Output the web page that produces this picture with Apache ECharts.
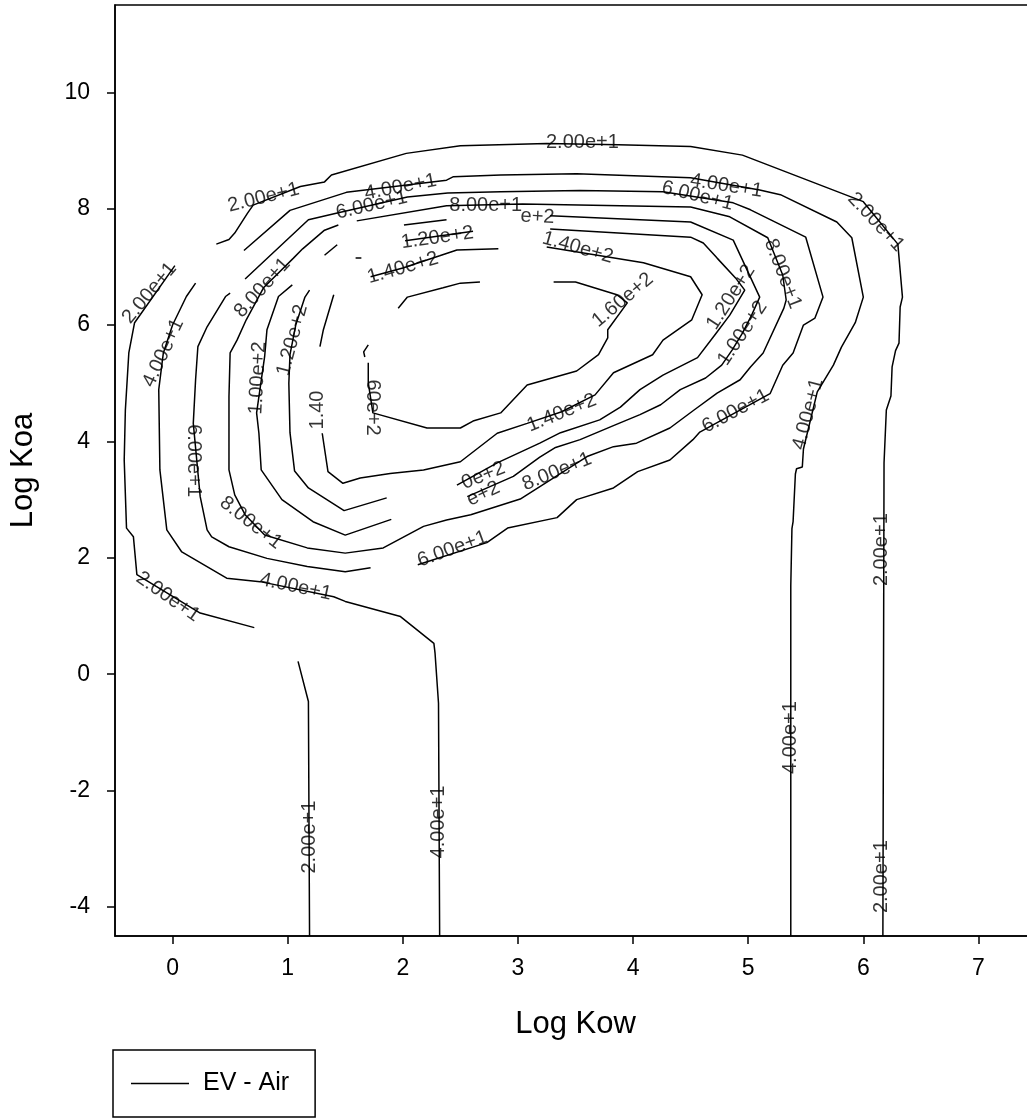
<!DOCTYPE html>
<html><head><meta charset="utf-8">
<script src="https://cdn.jsdelivr.net/npm/echarts@6/dist/echarts.min.js"></script>
<style>html,body{margin:0;padding:0;background:#fff}#c{width:1027px;height:1119px}</style>
</head><body><div id="c"></div>
<script>
// Tick labels
const xTicks = [0, 1, 2, 3, 4, 5, 6, 7];
const yTicks = [-4, -2, 0, 2, 4, 6, 8, 10];

// Contour level 20 (EV - Air)
const level20a = [[0.38,7.39],[0.49,7.47],[0.54,7.58],[0.65,7.92],[0.70,8.06],[1.11,8.38],[1.32,8.46],[1.38,8.58],[2.03,8.95],[2.50,9.08],[3.25,9.12],[3.87,9.10],[4.50,9.07],[4.95,8.92],[6.00,8.12],[6.30,7.39],[6.34,6.48],[6.32,6.31],[6.31,5.69],[6.28,5.56],[6.25,5.28],[6.24,4.78],[6.20,4.54],[6.18,3.63],[6.17,-4.5]];
const level20b = [[0.02,7.02],[-0.33,6.04],[-0.38,5.52],[-0.41,4.54],[-0.42,3.68],[-0.40,2.51],[-0.34,2.36],[-0.31,1.71],[0.24,1.05],[0.71,0.80]];
const level20c = [[1.09,0.22],[1.18,-0.47],[1.19,-4.5]];
// Contour level 40
const level40a = [[5.37,-4.5],[5.37,1.52],[5.38,2.50],[5.39,2.62],[5.41,3.44],[5.42,3.53],[5.47,3.56],[5.48,3.87],[5.60,4.85],[5.74,5.31],[5.81,5.62],[5.93,6.04],[6.00,6.48],[5.90,7.50],[5.77,7.77],[5.28,8.24],[5.10,8.32],[4.50,8.53],[3.51,8.60],[2.85,8.58],[2.44,8.55],[2.38,8.49],[1.51,8.28],[1.02,7.97],[0.62,7.28]];
const level40b = [[0.20,6.72],[0.12,6.49],[0.00,6.00],[-0.08,5.52],[-0.12,4.89],[-0.11,3.51],[-0.05,2.48],[0.08,2.10],[0.47,1.65],[0.76,1.59],[1.40,1.33],[1.50,1.25],[1.98,0.99],[2.27,0.53],[2.28,0.36],[2.31,-0.50],[2.32,-4.5]];
// Contour level 60
const level60a = [[0.50,6.55],[0.46,6.49],[0.30,5.97],[0.22,5.63],[0.20,5.06],[0.18,4.31],[0.24,3.05],[0.30,2.48],[0.34,2.36],[0.49,2.19],[0.82,1.99],[1.17,1.85],[1.50,1.76],[1.72,1.83]];
const level60b = [[0.63,6.79],[1.18,7.81],[1.44,7.93],[2.04,8.20],[2.39,8.27],[2.85,8.29],[3.54,8.31],[4.26,8.29],[4.87,8.10],[5.02,7.98],[5.50,7.51],[5.65,6.48],[5.58,6.12],[5.48,6.00],[5.39,5.52],[5.30,5.31],[5.19,4.82],[4.58,4.16],[4.52,4.03],[4.32,3.68],[4.04,3.48],[3.83,3.20],[3.51,3.00],[3.34,2.69],[2.91,2.51],[2.73,2.26],[2.13,1.88]];
// Contour level 80
const level80 = [[1.44,7.72],[1.32,7.63],[1.13,7.31],[1.05,7.15],[0.79,6.64],[0.64,6.09],[0.56,5.74],[0.50,5.52],[0.49,4.77],[0.49,3.51],[0.54,3.08],[0.63,2.74],[0.80,2.39],[1.17,2.17],[1.50,2.08],[1.83,2.17],[2.18,2.54],[2.38,2.65],[2.59,2.74],[3.02,3.01],[3.60,3.74],[3.83,3.91],[4.03,3.97],[4.32,4.23],[4.53,4.54],[4.73,4.83],[4.93,5.06],[5.02,5.28],[5.13,5.52],[5.31,6.29],[5.33,6.43],[5.30,6.86],[5.17,7.50],[4.84,7.86],[4.50,8.03],[3.04,8.08],[2.38,8.05],[1.60,7.79]];
// Contour level 100
const level100a = [[1.04,6.69],[0.92,6.49],[0.82,5.92],[0.80,5.46],[0.73,4.49],[0.75,4.14],[0.77,3.51],[0.95,3.00],[1.22,2.62],[1.50,2.39],[1.90,2.66]];
const level100b = [[1.32,7.20],[1.43,7.38]];
const level100c = [[2.01,7.72],[2.38,7.81]];
const level100d = [[2.56,3.05],[2.96,3.40],[3.19,3.73],[3.32,3.89],[3.54,4.03],[3.84,4.28],[4.06,4.46],[4.24,4.63],[4.41,4.89],[4.63,5.09],[4.77,5.31],[4.86,5.57],[4.95,5.86],[5.03,6.17],[5.10,6.48],[4.87,7.46],[4.50,7.77],[3.28,7.88]];
// Contour level 120
const level120a = [[1.19,6.60],[1.15,6.48],[1.07,6.00],[1.02,5.49],[1.01,5.00],[1.02,4.15],[1.06,3.49],[1.18,3.20],[1.49,2.81],[1.86,3.03]];
const level120b = [[1.59,7.15],[1.64,7.15]];
const level120c = [[2.02,7.45],[2.61,7.61]];
const level120d = [[2.47,3.25],[2.82,3.63],[3.19,3.97],[3.37,4.15],[3.71,4.37],[3.89,4.59],[4.06,4.89],[4.26,5.14],[4.56,5.44],[4.71,5.83],[4.84,6.17],[4.97,6.60],[4.89,6.81],[4.73,7.15],[4.61,7.41],[4.50,7.51],[3.28,7.65]];
// Contour level 140
const level140a = [[1.40,6.52],[1.31,5.92],[1.28,5.63]];
const level140b = [[1.30,4.14],[1.35,3.48],[1.48,3.28],[1.63,3.37],[1.89,3.45],[2.18,3.51],[2.50,3.65],[2.82,4.14],[3.08,4.31],[3.38,4.51],[3.67,4.80],[3.83,5.18],[4.17,5.49],[4.26,5.74],[4.51,6.09],[4.60,6.52],[4.50,6.83],[4.09,7.07],[3.25,7.34]];
const level140c = [[1.72,6.83],[2.00,6.98],[2.32,7.19],[2.47,7.29],[2.83,7.31]];
// Contour level 160
const level160a = [[3.31,6.74],[3.50,6.74],[3.86,6.52],[3.95,6.38],[3.78,5.92],[3.78,5.78],[3.70,5.49],[3.51,5.21],[3.08,4.97],[2.85,4.49],[2.61,4.35],[2.50,4.23],[2.21,4.23],[1.74,4.49],[1.70,5.01],[1.70,5.35]];
const level160b = [[1.70,5.66],[1.66,5.54],[1.67,5.45]];
const level160c = [[1.96,6.29],[2.04,6.48],[2.35,6.64],[2.50,6.72],[2.67,6.74]];

// Contour labels: location (data units), text, orientation (deg)
const labelPoints = [[0.79,8.19],[3.56,9.13],[6.11,7.77],[6.16,2.14],[6.16,-3.48],[-0.20,6.55],[-0.04,1.33],[1.19,-2.80],
  [1.98,8.37],[4.81,8.39],[5.52,4.47],[5.37,-1.09],[-0.08,5.52],[1.07,1.50],[2.31,-2.54],
  [1.73,8.06],[4.56,8.22],[4.89,4.52],[2.43,2.15],[0.18,3.67],
  [2.72,8.06],[5.30,6.88],[3.34,3.48],[0.68,2.60],[0.78,6.64],
  [3.17,7.86],[0.74,5.09],[4.95,5.86],[2.70,3.10],
  [1.04,5.74],[2.30,7.50],[4.85,6.48],[2.70,3.41],
  [2.00,6.98],[3.52,7.33],[3.38,4.49],[1.26,4.54],
  [3.91,6.43],[1.74,4.58]];
const labelTexts = ['2.00e+1','2.00e+1','2.00e+1','2.00e+1','2.00e+1','2.00e+1','2.00e+1','2.00e+1',
  '4.00e+1','4.00e+1','4.00e+1','4.00e+1','4.00e+1','4.00e+1','4.00e+1',
  '6.00e+1','6.00e+1','6.00e+1','6.00e+1','6.00e+1',
  '8.00e+1','8.00e+1','8.00e+1','8.00e+1','8.00e+1',
  'e+2','1.00e+2','1.00e+2','e+2',
  '1.20e+2','1.20e+2','1.20e+2','0e+2',
  '1.40e+2','1.40e+2','1.40e+2','1.40',
  '1.60e+2','60e+2'];
const labelAngles = [14,0,-47,90,90,50,-35,90,
  11,-9,75,90,65,-12,90,
  13,-14,28,20,-90,
  0,-69,22,-38,48,
  -3,87,56,25,
  75,8,57,22,
  16,-16,22,90,
  40,-90];

const contourSegments = [level20a, level20b, level20c, level40a, level40b, level60a, level60b, level80,
  level100a, level100b, level100c, level100d, level120a, level120b, level120c, level120d,
  level140a, level140b, level140c, level160a, level160b, level160c];

const FONT = '"Liberation Sans", Arial, Helvetica, sans-serif';
const chart = echarts.init(document.getElementById('c'), null, {renderer: 'canvas'});

const lineSeries = contourSegments.map(seg => ({
  type: 'line', name: 'EV - Air', data: seg, symbol: 'none', showSymbol: false,
  lineStyle: {color: '#000', width: 1.5}, itemStyle: {color: '#000'},
  silent: true, animation: false, z: 2
}));

const labelSeries = {
  type: 'scatter', name: 'contour labels', symbol: 'circle', symbolSize: 1,
  itemStyle: {color: 'rgba(0,0,0,0)'}, silent: true, animation: false, z: 5,
  label: {show: true, position: 'inside', color: '#000', fontSize: 20, fontFamily: FONT},
  data: labelPoints.map((p, i) => ({
    value: p,
    label: {show: true, formatter: labelTexts[i], rotate: labelAngles[i]}
  }))
};

const axisCommon = {
  type: 'value',
  nameLocation: 'middle',
  nameTextStyle: {fontSize: 31, color: '#000', fontFamily: FONT},
  axisLine: {show: true, onZero: false, lineStyle: {color: '#000', width: 1.5}},
  splitLine: {show: false}
};

chart.setOption({
  animation: false,
  backgroundColor: '#fff',
  grid: {left: 115, top: 5, width: 921, height: 931, outerBoundsMode: 'none', containLabel: false,
    show: true, borderColor: '#000', borderWidth: 1.5, backgroundColor: 'transparent'},
  xAxis: Object.assign({}, axisCommon, {
    min: -0.5, max: 7.5, name: 'Log Kow', nameGap: 73,
    axisTick: {show: true, inside: false, length: 8, customValues: xTicks, lineStyle: {color: '#000', width: 1.5}},
    axisLabel: {show: true, customValues: xTicks, fontSize: 23, color: '#000', margin: 21, fontFamily: FONT}
  }),
  yAxis: Object.assign({}, axisCommon, {
    min: -4.5, max: 11.5, name: 'Log Koa', nameGap: 76, nameRotate: 90,
    axisTick: {show: true, inside: false, length: 8, customValues: yTicks, lineStyle: {color: '#000', width: 1.5}},
    axisLabel: {show: true, customValues: yTicks, fontSize: 23, color: '#000', margin: 25, fontFamily: FONT}
  }),
  legend: {
    data: [{name: 'EV - Air', icon: 'rect', itemStyle: {color: '#000', borderWidth: 0}}],
    left: 113, top: 1050, orient: 'horizontal',
    itemWidth: 58, itemHeight: 1.6, selectedMode: false,
    borderColor: '#000', borderWidth: 1.5, padding: [21, 26, 21, 18],
    textStyle: {fontSize: 25, color: '#000', fontFamily: FONT, padding: [0, 0, 0, 9]}
  },
  series: lineSeries.concat([labelSeries])
});
</script>
</body></html>
